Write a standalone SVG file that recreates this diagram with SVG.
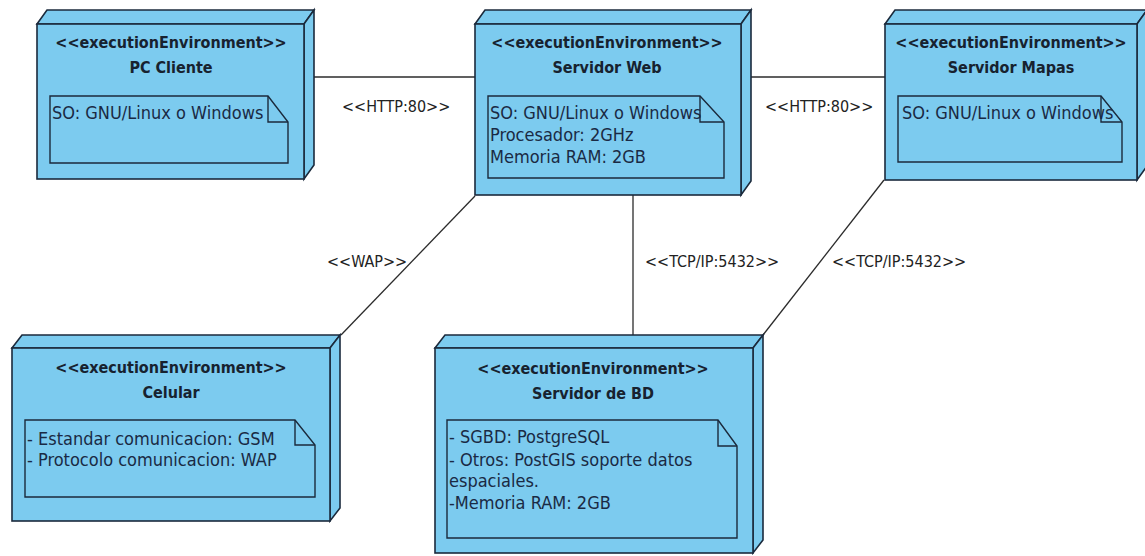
<svg xmlns="http://www.w3.org/2000/svg" width="1145" height="556" viewBox="0 0 1145 556">
  <style>
    .face { fill: #7ccbef; stroke: #1b2a3c; stroke-width: 1.6; stroke-linejoin: miter; }
    .note { fill: #7ccbef; stroke: #1b2a3c; stroke-width: 1.4; }
    .fold { fill: none; stroke: #1b2a3c; stroke-width: 1.4; }
    .stereo, .name { font-family: "DejaVu Sans Condensed", "DejaVu Sans", sans-serif; font-stretch: condensed; font-weight: bold; font-size: 16px; fill: #17222f; text-anchor: middle; }
    .body { font-family: "DejaVu Sans Condensed", "DejaVu Sans", sans-serif; font-stretch: condensed; font-size: 18px; fill: #1a2a44; }
    .conn { fill: none; stroke: #2b2b2b; stroke-width: 1.3; }
    .lbl { font-family: "DejaVu Sans Condensed", "DejaVu Sans", sans-serif; font-stretch: condensed; font-size: 16px; fill: #222; }
  </style>

  <g id="connectors">
    <path class="conn" d="M304,77 H475"/>
    <path class="conn" d="M741,77 H885"/>
    <path class="conn" d="M475,196 L341,335"/>
    <path class="conn" d="M633,195 V335"/>
    <path class="conn" d="M884,180 L763,335"/>
    <text class="lbl" x="342" y="112">&lt;&lt;HTTP:80&gt;&gt;</text>
    <text class="lbl" x="765" y="112">&lt;&lt;HTTP:80&gt;&gt;</text>
    <text class="lbl" x="327" y="267">&lt;&lt;WAP&gt;&gt;</text>
    <text class="lbl" x="645" y="267">&lt;&lt;TCP/IP:5432&gt;&gt;</text>
    <text class="lbl" x="832" y="267">&lt;&lt;TCP/IP:5432&gt;&gt;</text>
  </g>

  <!-- PC Cliente -->
  <g id="pc-cliente">
    <path class="face" d="M37,24 L47,10 L314,10 L304,24 Z"/>
    <path class="face" d="M304,24 L314,10 L314,165 L304,179 Z"/>
    <rect class="face" x="37" y="24" width="267" height="155"/>
    <text class="stereo" x="171" y="48">&lt;&lt;executionEnvironment&gt;&gt;</text>
    <text class="name" x="171" y="73">PC Cliente</text>
    <path class="note" d="M50,96 H268 L288,122 V163 H50 Z"/>
    <path class="fold" d="M268,96 V122 H288"/>
    <text class="body" x="52" y="119">SO: GNU/Linux o Windows</text>
  </g>

  <!-- Servidor Web -->
  <g id="servidor-web">
    <path class="face" d="M475,24 L485,10 L751,10 L741,24 Z"/>
    <path class="face" d="M741,24 L751,10 L751,181 L741,195 Z"/>
    <rect class="face" x="475" y="24" width="266" height="171"/>
    <text class="stereo" x="607" y="48">&lt;&lt;executionEnvironment&gt;&gt;</text>
    <text class="name" x="607" y="73">Servidor Web</text>
    <path class="note" d="M488,96 H700 L724,122 V178 H488 Z"/>
    <path class="fold" d="M700,96 V122 H724"/>
    <text class="body" x="490" y="119">SO: GNU/Linux o Windows</text>
    <text class="body" x="490" y="141">Procesador: 2GHz</text>
    <text class="body" x="490" y="163">Memoria RAM: 2GB</text>
  </g>

  <!-- Servidor Mapas -->
  <g id="servidor-mapas">
    <path class="face" d="M885,24 L895,10 L1147,10 L1137,24 Z"/>
    <path class="face" d="M1137,24 L1147,10 L1147,166 L1137,180 Z"/>
    <rect class="face" x="885" y="24" width="252" height="156"/>
    <text class="stereo" x="1011" y="48">&lt;&lt;executionEnvironment&gt;&gt;</text>
    <text class="name" x="1011" y="73">Servidor Mapas</text>
    <path class="note" d="M898,96 H1101 L1122,122 V162 H898 Z"/>
    <path class="fold" d="M1101,96 V122 H1122"/>
    <text class="body" x="902" y="119">SO: GNU/Linux o Windows</text>
  </g>

  <!-- Celular -->
  <g id="celular">
    <path class="face" d="M12,348 L22,335 L340,335 L330,348 Z"/>
    <path class="face" d="M330,348 L340,335 L340,508 L330,521 Z"/>
    <rect class="face" x="12" y="348" width="318" height="173"/>
    <text class="stereo" x="171" y="373">&lt;&lt;executionEnvironment&gt;&gt;</text>
    <text class="name" x="171" y="398">Celular</text>
    <path class="note" d="M25,420 H295 L315,445 V497 H25 Z"/>
    <path class="fold" d="M295,420 V445 H315"/>
    <text class="body" x="27" y="445">- Estandar comunicacion: GSM</text>
    <text class="body" x="27" y="466">- Protocolo comunicacion: WAP</text>
  </g>

  <!-- Servidor de BD -->
  <g id="servidor-bd">
    <path class="face" d="M435,348 L445,335 L763,335 L753,348 Z"/>
    <path class="face" d="M753,348 L763,335 L763,540 L753,553 Z"/>
    <rect class="face" x="435" y="348" width="318" height="205"/>
    <text class="stereo" x="593" y="374">&lt;&lt;executionEnvironment&gt;&gt;</text>
    <text class="name" x="593" y="399">Servidor de BD</text>
    <path class="note" d="M447,420 H718 L737,446 V538 H447 Z"/>
    <path class="fold" d="M718,420 V446 H737"/>
    <text class="body" x="449" y="443">- SGBD: PostgreSQL</text>
    <text class="body" x="449" y="466">- Otros: PostGIS soporte datos</text>
    <text class="body" x="449" y="487">espaciales.</text>
    <text class="body" x="449" y="509">-Memoria RAM: 2GB</text>
  </g>
</svg>
